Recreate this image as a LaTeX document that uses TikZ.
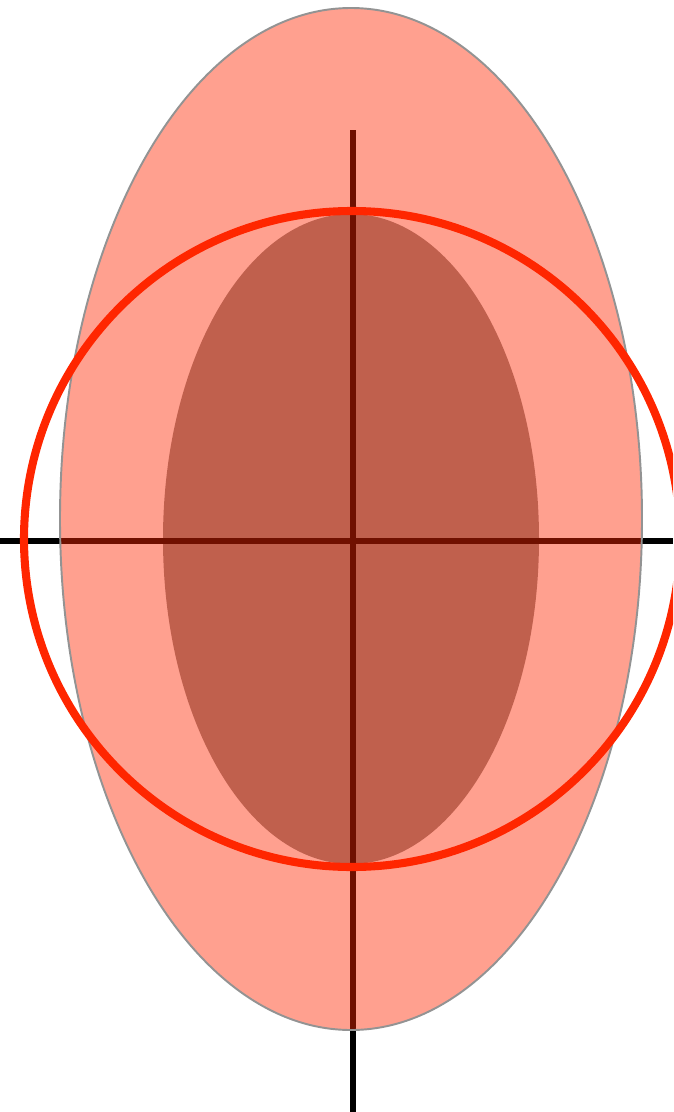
\documentclass[tikz,border=0pt]{standalone}
\usetikzlibrary{arrows.meta}
\definecolor{ringred}{RGB}{255,38,0}
\definecolor{coregray}{RGB}{143,143,139}

\begin{document}
\begin{tikzpicture}[x=0.02cm, y=-0.02cm,
    axis/.style={line width=3.2pt, black},
    shell/.style={fill=ringred, fill opacity=0.44, draw=gray!85, line width=1.1pt}]
  \useasboundingbox (0,0) rectangle (673,1112);
  \clip (0,0) rectangle (673,1112);
  % центр
  \coordinate (o) at (352,539);
  % внутренний эллипс (под полупрозрачной оболочкой)
  \fill[coregray] (351,539) ellipse [x radius=188, y radius=325];
  % оси
  \draw[axis] (0,541) -- (673,541);
  \draw[axis] (353,130) -- (353,1112);
  % внешний эллипс
  \draw[shell] (351,519) ellipse [x radius=291, y radius=511];
  % окружность
  \draw[ringred, line width=4.6pt] (o) circle (328);
\end{tikzpicture}
\end{document}
